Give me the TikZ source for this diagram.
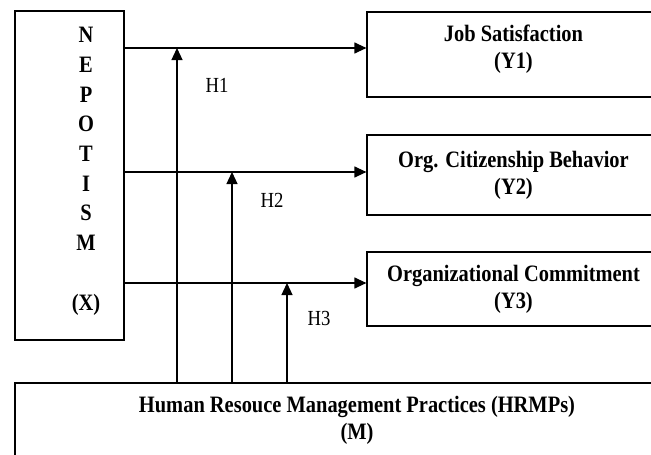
\documentclass[tikz,border=0pt]{standalone}
\usepackage{fontspec}
\setmainfont{Liberation Serif}[FakeStretch=0.87]
\usetikzlibrary{arrows.meta}

\begin{document}
\begin{tikzpicture}[x=1pt,y=-1pt,
    box/.style={draw, line width=1.2pt, align=center, inner sep=0pt,
      font=\bfseries\fontsize{23.5}{27}\selectfont},
    letter/.style={font=\bfseries\fontsize{23.5}{24}\selectfont, inner sep=0pt},
    arr/.style={-{Triangle[length=12pt,width=11pt]}, line width=1.2pt},
    hyp/.style={font=\fontsize{21.5}{22}\selectfont}]
  \useasboundingbox (0,0) rectangle (651,455);
  \clip (0,0) rectangle (651,455);

  % independent variable
  \node[box, minimum width=109pt, minimum height=329pt] (nep) at (69.5,175.5) {};
  \foreach \l [count=\i from 0] in {N,E,P,O,T,I,S,M}
    \node[letter] (n\i) at (86,{35+29.7*\i}) {\l};
  \node[letter] (nx) at (86,305) {(X)};

  % dependent variables
  \node[box, minimum width=293pt, minimum height=85pt, text depth=15pt] (js) at (513.5,54.5) {Job Satisfaction\\(Y1)};
  \node[box, minimum width=293pt, minimum height=80pt] (ocb) at (513.5,175) {Org. Citizenship Behavior\\(Y2)};
  \node[box, minimum width=293pt, minimum height=74pt] (oc) at (513.5,289) {Organizational Commitment\\(Y3)};

  % moderator
  \node[box, minimum width=684pt, minimum height=75pt] (hr) at (357,420.5) {Human Resouce Management Practices (HRMPs)\\(M)};

  % direct paths
  \coordinate (x1) at (nep.east |- 0,48);
  \coordinate (x2) at (nep.east |- 0,172);
  \coordinate (x3) at (nep.east |- 0,283);
  \draw[arr] (x1) -- (x1 -| js.west);
  \draw[arr] (x2) -- (x2 -| ocb.west);
  \draw[arr] (x3) -- (x3 -| oc.west);

  % moderating paths
  \coordinate (m1) at (hr.north -| 177,0);
  \coordinate (m2) at (hr.north -| 232,0);
  \coordinate (m3) at (hr.north -| 287,0);
  \draw[arr] (m1) -- (m1 |- x1);
  \draw[arr] (m2) -- (m2 |- x2);
  \draw[arr] (m3) -- (m3 |- x3);

  \node[hyp] (h1) at (217,85) {H1};
  \node[hyp] (h2) at (272,200) {H2};
  \node[hyp] (h3) at (319,318) {H3};
\end{tikzpicture}
\end{document}
